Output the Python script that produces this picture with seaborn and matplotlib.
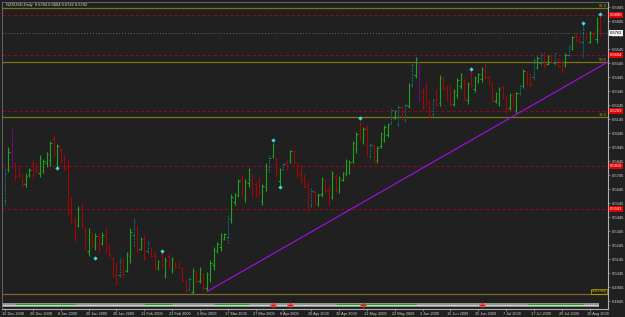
import numpy as np
import pandas as pd
import matplotlib
matplotlib.use("Agg")
import matplotlib.pyplot as plt
import matplotlib.transforms as mtransforms
import seaborn as sns

sns.set_theme(style="dark")
plt.rcParams["font.family"] = ["Liberation Sans", "DejaVu Sans"]

# ---------------- data ----------------
title_text = "NZDUSD,Daily  0.6784 0.6884 0.6742 0.6762"
holidays = ["2008-12-25", "2009-01-01"]

opens = [0.5560,0.5790,0.5900,0.5820,0.5790,0.5745,0.5680,0.5745,0.5830,0.5820,
         0.5760,0.5785,0.5830,0.5850,0.6000,0.5830,0.5930,0.5870,0.5800,0.5480,
         0.5420,0.5390,0.5500,0.5360,0.5200,0.5320,0.5240,0.5310,0.5260,0.5330,
         0.5230,0.5150,0.5060,0.5030,0.5140,0.5060,0.5170,0.5320,0.5370,0.5220,
         0.5290,0.5200,0.5225,0.5180,0.5080,0.5180,0.5030,0.5170,0.5070,0.5115,
         0.5110,0.5080,0.4990,0.4930,0.4910,0.5050,0.4990,0.5040,0.4935,0.5000,
         0.5100,0.5200,0.5230,0.5290,0.5300,0.5430,0.5550,0.5600,0.5720,0.5580,
         0.5690,0.5750,0.5680,0.5700,0.5560,0.5660,0.5790,0.5880,0.5860,0.5700,
         0.5790,0.5840,0.5845,0.5915,0.5825,0.5760,0.5720,0.5680,0.5530,0.5625,
         0.5540,0.5610,0.5700,0.5640,0.5590,0.5740,0.5640,0.5710,0.5750,0.5770,
         0.5845,0.5930,0.6110,0.5990,0.6080,0.5880,0.5955,0.5850,0.5950,0.6000,
         0.6030,0.6120,0.6155,0.6110,0.6235,0.6140,0.6240,0.6390,0.6460,0.6540,
         0.6350,0.6390,0.6270,0.6180,0.6345,0.6260,0.6440,0.6375,0.6370,0.6255,
         0.6320,0.6380,0.6425,0.6280,0.6480,0.6360,0.6415,0.6430,0.6530,0.6450,
         0.6400,0.6275,0.6260,0.6375,0.6300,0.6225,0.6320,0.6210,0.6330,0.6380,
         0.6480,0.6460,0.6450,0.6515,0.6545,0.6610,0.6540,0.6600,0.6545,0.6575,
         0.6555,0.6530,0.6605,0.6650,0.6750,0.6730,0.6700,0.6760,0.6700,0.6760,
         0.6720,0.6784]
highs = [0.5796,0.5946,0.6082,0.5839,0.5803,0.5760,0.5760,0.5796,0.5853,0.5832,
         0.5889,0.5860,0.5910,0.5989,0.6032,0.5968,0.5939,0.5889,0.5853,0.5589,
         0.5446,0.5524,0.5546,0.5374,0.5367,0.5338,0.5331,0.5331,0.5338,0.5374,
         0.5253,0.5160,0.5117,0.5152,0.5152,0.5195,0.5367,0.5438,0.5388,0.5302,
         0.5317,0.5281,0.5231,0.5195,0.5138,0.5195,0.5160,0.5188,0.5160,0.5124,
         0.5124,0.5088,0.4995,0.5017,0.5081,0.5060,0.5088,0.5045,0.5052,0.5138,
         0.5231,0.5267,0.5331,0.5331,0.5460,0.5610,0.5617,0.5717,0.5746,0.5717,
         0.5796,0.5760,0.5696,0.5732,0.5681,0.5832,0.5889,0.5975,0.5875,0.5796,
         0.5832,0.5853,0.5925,0.5925,0.5832,0.5817,0.5753,0.5696,0.5653,0.5639,
         0.5617,0.5732,0.5710,0.5667,0.5774,0.5753,0.5739,0.5767,0.5860,0.5853,
         0.5989,0.6053,0.6132,0.6089,0.6103,0.5975,0.5968,0.5953,0.6053,0.6103,
         0.6118,0.6225,0.6211,0.6246,0.6246,0.6261,0.6404,0.6554,0.6589,0.6554,
         0.6368,0.6411,0.6282,0.6296,0.6361,0.6461,0.6454,0.6389,0.6389,0.6361,
         0.6439,0.6475,0.6439,0.6411,0.6497,0.6454,0.6475,0.6518,0.6547,0.6461,
         0.6411,0.6339,0.6375,0.6389,0.6318,0.6332,0.6332,0.6339,0.6389,0.6504,
         0.6489,0.6475,0.6582,0.6597,0.6618,0.6625,0.6604,0.6611,0.6625,0.6582,
         0.6568,0.6618,0.6675,0.6740,0.6761,0.6740,0.6818,0.6768,0.6775,0.6768,
         0.6875,0.6884]
lows = [0.5531,0.5767,0.5796,0.5710,0.5724,0.5660,0.5660,0.5732,0.5724,0.5760,
        0.5732,0.5760,0.5803,0.5810,0.5875,0.5803,0.5832,0.5782,0.5460,0.5403,
        0.5267,0.5374,0.5367,0.5210,0.5167,0.5231,0.5210,0.5195,0.5245,0.5188,
        0.5160,0.5017,0.4959,0.5017,0.5017,0.5052,0.5117,0.5238,0.5188,0.5210,
        0.5138,0.5188,0.5160,0.5067,0.5067,0.5088,0.5009,0.5081,0.5045,0.5081,
        0.5081,0.4981,0.4909,0.4924,0.4895,0.4974,0.4974,0.4924,0.4916,0.4981,
        0.5067,0.5188,0.5202,0.5281,0.5260,0.5403,0.5531,0.5589,0.5596,0.5553,
        0.5660,0.5589,0.5589,0.5603,0.5531,0.5631,0.5767,0.5867,0.5739,0.5674,
        0.5782,0.5782,0.5832,0.5824,0.5732,0.5689,0.5653,0.5481,0.5517,0.5531,
        0.5524,0.5589,0.5617,0.5531,0.5574,0.5624,0.5617,0.5703,0.5739,0.5753,
        0.5832,0.5903,0.5996,0.5968,0.5882,0.5867,0.5832,0.5832,0.5939,0.5982,
        0.6017,0.6110,0.6146,0.6096,0.6139,0.6125,0.6225,0.6375,0.6439,0.6268,
        0.6211,0.6239,0.6153,0.6168,0.6239,0.6239,0.6354,0.6268,0.6239,0.6239,
        0.6296,0.6361,0.6282,0.6254,0.6375,0.6339,0.6404,0.6411,0.6432,0.6389,
        0.6268,0.6261,0.6239,0.6289,0.6189,0.6211,0.6232,0.6189,0.6318,0.6368,
        0.6389,0.6382,0.6432,0.6504,0.6532,0.6511,0.6532,0.6547,0.6532,0.6518,
        0.6475,0.6518,0.6597,0.6640,0.6697,0.6690,0.6589,0.6718,0.6690,0.6725,
        0.6690,0.6742]
closes = [0.5760,0.5910,0.5850,0.5740,0.5740,0.5680,0.5740,0.5785,0.5750,0.5775,
          0.5870,0.5845,0.5895,0.5975,0.5900,0.5950,0.5850,0.5795,0.5480,0.5420,
          0.5290,0.5500,0.5390,0.5230,0.5340,0.5250,0.5310,0.5220,0.5320,0.5220,
          0.5175,0.5040,0.4980,0.5130,0.5040,0.5180,0.5340,0.5420,0.5210,0.5290,
          0.5160,0.5260,0.5170,0.5090,0.5130,0.5100,0.5140,0.5095,0.5145,0.5090,
          0.5088,0.4995,0.4920,0.5005,0.5060,0.4985,0.5075,0.4940,0.5040,0.5120,
          0.5210,0.5255,0.5315,0.5325,0.5440,0.5590,0.5600,0.5700,0.5610,0.5700,
          0.5780,0.5610,0.5600,0.5620,0.5665,0.5810,0.5870,0.5960,0.5760,0.5780,
          0.5825,0.5795,0.5915,0.5840,0.5745,0.5700,0.5665,0.5500,0.5630,0.5545,
          0.5605,0.5720,0.5630,0.5545,0.5760,0.5640,0.5725,0.5760,0.5845,0.5840,
          0.5975,0.6040,0.6010,0.6075,0.5900,0.5960,0.5850,0.5940,0.6040,0.6090,
          0.6105,0.6210,0.6205,0.6230,0.6150,0.6245,0.6390,0.6535,0.6575,0.6290,
          0.6230,0.6260,0.6170,0.6280,0.6250,0.6440,0.6370,0.6285,0.6255,0.6345,
          0.6425,0.6465,0.6300,0.6395,0.6390,0.6440,0.6465,0.6505,0.6450,0.6400,
          0.6285,0.6330,0.6360,0.6300,0.6205,0.6320,0.6245,0.6330,0.6380,0.6490,
          0.6400,0.6395,0.6570,0.6585,0.6605,0.6525,0.6595,0.6555,0.6615,0.6525,
          0.6490,0.6605,0.6665,0.6730,0.6710,0.6700,0.6790,0.6725,0.6765,0.6735,
          0.6784,0.6762]
# bar style: g = up, r = down, t = teal (dotted), p = purple
bar_kind = ("tgprrrggrr" "ggggrgrrrr" "rgrrgrgrgr" "rrrtrggtrg" "rtrrgrgrgr"
            "rrrtgrgrgg" "ggggtgggrg" "grrrggtgrg" "trgrrrrrtr" "ggrrgrgggg"
            "ggrgrtrggg" "gtgtrtgtgp" "rrrtrgrrrg" "ggrgrgggrr" "rggrrgrgtg"
            "rrtgtrgrtr" "rgtgrrtrgr" "gr")

# fractal markers (bar index, price)
fractal_idx = [15, 26, 45, 77, 79, 102, 134, 166, 171]
fractal_px = [0.5793, 0.5150, 0.5205, 0.5998, 0.5662, 0.6155, 0.6507, 0.6836, 0.6899]

# trend line (bar index, price)
trend_idx = [58.3, 173.3]
trend_px = [0.4916, 0.6555]

# horizontal levels
fib_levels = [0.6160, 0.6554, 0.6940]
fib_names = ["38.2", "50.0", "61.8"]
base_level = 0.4895
red_levels = [0.6890, 0.6604, 0.6203, 0.5810, 0.5503]
last_price = 0.6762

# bottom strip signal crosses
signal_idx = [77, 82, 103, 137]

price_ticks = [0.4845, 0.4945, 0.5045, 0.5145, 0.5245, 0.5345, 0.5445, 0.5545,
               0.5645, 0.5745, 0.5845, 0.5945, 0.6045, 0.6145, 0.6245, 0.6345,
               0.6445, 0.6545, 0.6645, 0.6745, 0.6845, 0.6945]

# ---------------- build ----------------
dates = pd.bdate_range("2008-12-15", "2009-08-13")
dates = dates[~dates.isin(pd.to_datetime(holidays))]
n = len(highs)
df = pd.DataFrame({"date": dates[:n], "open": opens, "high": highs,
                   "low": lows, "close": closes, "kind": list(bar_kind)})
df["i"] = np.arange(n)

BG = "#1f201f"
colors = {"g": "#22a022", "r": "#a00808", "t": "#08808c", "p": "#6a0a78"}

fig = plt.figure(figsize=(6.25, 3.17), dpi=100, facecolor=BG)
ax = fig.add_axes([2 / 625, 8 / 317, 606 / 625, 307 / 317])
ax.set_facecolor(BG)
ax.set_xlim(-0.86, 173.3)
ax.set_ylim(0.4788, 0.6983)

blend = mtransforms.blended_transform_factory(ax.transAxes, ax.transData)

# bottom strip
ax.axhspan(0.4800, 0.4830, xmin=0.0, xmax=0.985, color="#8e948e", lw=0, zorder=1)
ax.axhspan(0.4810, 0.4820, xmin=0.0, xmax=0.985, color="#cfd4cf", lw=0, zorder=1)
for a, b in [(3, 20), (40, 48), (60, 70), (95, 118), (150, 166)]:
    ax.hlines(0.4825, a, b, color="#1fa01f", lw=0.7, zorder=2)
sns.scatterplot(x=signal_idx, y=[0.4815] * len(signal_idx), marker="+", s=14,
                color="#ff1010", linewidth=0.9, ax=ax, zorder=3, legend=False)

# horizontal lines
ax.axhline(base_level, color="#80622a", lw=0.9, zorder=1)
for lv in fib_levels:
    ax.axhline(lv, color="#7d7412", lw=0.9, zorder=1)
for lv in red_levels:
    ax.axhline(lv, color="#8a0a20", lw=0.8, ls=(0, (3, 2)), zorder=1)
ax.axhline(last_price, color="#6a6a6a", lw=0.7, ls=(0, (1, 2)), zorder=1)

# bars
for kind, sub in df.groupby("kind"):
    c = colors[kind]
    ls = (0, (1, 1)) if kind == "t" else "-"
    ax.vlines(sub["i"], sub["low"], sub["high"], color=c, lw=0.8, linestyles=ls, zorder=3)
    ax.hlines(sub["open"], sub["i"] - 0.4, sub["i"], color=c, lw=0.8, zorder=3)
    ax.hlines(sub["close"], sub["i"], sub["i"] + 0.4, color=c, lw=0.8, zorder=3)

# trend line
sns.lineplot(x=trend_idx, y=trend_px, color="#9a10d8", lw=0.9, ax=ax, zorder=4)

# fractal markers
sns.scatterplot(x=fractal_idx, y=fractal_px, marker="D", s=3.5, color="#10e8e8",
                edgecolor="#90ffff", linewidth=0.2, ax=ax, zorder=5, legend=False)

# texts
ax.text(0.006, 0.996, title_text, transform=ax.transAxes, ha="left", va="top",
        fontsize=2.9, color="#d8d8d8")
for lv, nm in zip(fib_levels, fib_names):
    ax.text(0.998, lv, nm, transform=blend, ha="right", va="bottom",
            fontsize=3.0, color="#b0a010")
ax.text(0.997, base_level + 0.0004, "sell entry", transform=blend, ha="right",
        va="bottom", fontsize=2.6, color="#d8c800",
        bbox=dict(facecolor="none", edgecolor="#b8a800", pad=0.6, lw=0.5))

# y axis on right
ax.yaxis.tick_right()
ax.set_yticks(price_ticks)
ax.set_yticklabels([f"{v:.4f}" for v in price_ticks])
ax.tick_params(axis="y", labelsize=3.0, labelcolor="#d0d0d0", color="#a0a0a0",
               length=1.5, width=0.5, pad=1, right=True, left=False)

for lv in red_levels:
    ax.text(1.003, lv, f"{lv:.4f}", transform=blend, ha="left", va="center",
            fontsize=3.0, color="white",
            bbox=dict(facecolor="#e00000", edgecolor="none", pad=0.5))
ax.text(1.003, last_price, f"{last_price:.4f}", transform=blend, ha="left",
        va="center", fontsize=3.0, color="black",
        bbox=dict(facecolor="#f0f0f0", edgecolor="none", pad=0.5))

# x axis dates
tick_pos = list(range(0, n, 8))
ax.set_xticks(tick_pos)
ax.set_xticklabels([f"{d.day} {d.strftime('%b %Y')}" for d in df["date"].iloc[tick_pos]])
ax.tick_params(axis="x", labelsize=2.8, labelcolor="#d0d0d0", color="#a0a0a0",
               length=1.5, width=0.5, pad=1, bottom=True)
shift = mtransforms.ScaledTranslation(-3 / 100, 0, fig.dpi_scale_trans)
for lab in ax.get_xticklabels():
    lab.set_horizontalalignment("left")
    lab.set_transform(lab.get_transform() + shift)

ax.set_xlabel("")
ax.set_ylabel("")
ax.grid(False)
for side in ["right", "bottom"]:
    ax.spines[side].set_color("#b0b0b0")
    ax.spines[side].set_linewidth(0.8)
for side in ["left", "top"]:
    ax.spines[side].set_color("#707070")
    ax.spines[side].set_linewidth(0.6)
    ax.spines[side].set_linestyle((0, (1, 1)))

fig.savefig("out.png", dpi=100, facecolor=BG)
